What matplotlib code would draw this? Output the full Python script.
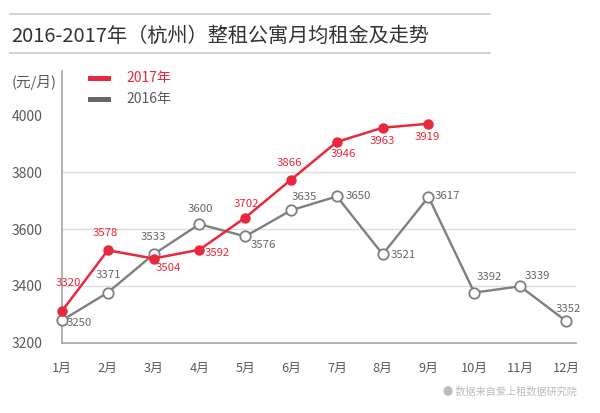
import matplotlib
matplotlib.use("Agg")
import matplotlib.pyplot as plt
from matplotlib.lines import Line2D
from matplotlib.patches import Rectangle

plt.rcParams['font.family'] = ['Noto Sans CJK SC', 'DejaVu Sans']
plt.rcParams['font.weight'] = 'light'

# ---- data ----
months = ['1月', '2月', '3月', '4月', '5月', '6月', '7月', '8月', '9月', '10月', '11月', '12月']
y2017 = [3311, 3525, 3496, 3527, 3640, 3774, 3907, 3957, 3971]
y2016 = [3278, 3376, 3511, 3617, 3574, 3666, 3715, 3511, 3713, 3376, 3398, 3276]
lab2017 = ['3320', '3578', '3504', '3592', '3702', '3866', '3946', '3963', '3919']
lab2016 = ['3250', '3371', '3533', '3600', '3576', '3635', '3650', '3521', '3617', '3392', '3339', '3352']
yticks = [3200, 3400, 3600, 3800, 4000]
title = '2016-2017年（杭州）整租公寓月均租金及走势'
unit = '(元/月)'
source = '● 数据来自爱上租数据研究院'
legend_labels = ['2017年', '2016年']

# label offsets (pixels, dx, dy)
off2017 = [(6, 28), (-2, 17), (15, -9), (18, -3), (1, 14), (-2, 17), (6, -12), (0, -13), (-1, -13)]
off2016 = [(17, -3), (1, 18), (0, 17), (1, 15), (18, -9), (13, 13), (21, 0), (21, -1), (19, 1),
           (15, 16), (17, 10), (2, 12)]

RED = '#E8283C'
GRAY = '#7F7F7F'
TXT = '#595959'

W, H = 600, 413
fig = plt.figure(figsize=(W / 100, H / 100), dpi=100)

def fx(px):
    return px / W

def fy(py):
    return 1 - py / H

# axes: x from 62 to 576 px, y from 71 to 342.5 px
ax = fig.add_axes([fx(62), fy(342.5), fx(576) - fx(62), fy(71) - fy(342.5)])
x1 = list(range(1, 13))
ax.set_xlim(1, 12.22)
ax.set_ylim(3200, 4157)

for s in ['top', 'right']:
    ax.spines[s].set_visible(False)
for s in ['left', 'bottom']:
    ax.spines[s].set_color('#AAAAAA')
    ax.spines[s].set_linewidth(1.3)

for yv in yticks[1:4]:
    ax.axhline(yv, color='#DDDDDD', lw=1.0, zorder=0)

ax.set_yticks(yticks)
ax.set_yticklabels([str(v) for v in yticks], fontsize=10, color=TXT)
ax.tick_params(axis='y', length=0, pad=14)
ax.set_xticks(x1)
ax.set_xticklabels(months, fontsize=9.2, color=TXT)
ax.tick_params(axis='x', length=0, pad=14)

ax.plot(x1, y2016, color=GRAY, lw=1.7, marker='o', markersize=7.5,
        markerfacecolor='white', markeredgecolor=GRAY, markeredgewidth=1.3, zorder=3, clip_on=False)
ax.plot(x1[:len(y2017)], y2017, color=RED, lw=1.8, marker='o', markersize=6.5,
        markerfacecolor=RED, markeredgecolor=RED, zorder=4, clip_on=False)

for i, (v, t) in enumerate(zip(y2016, lab2016)):
    ax.annotate(t, (x1[i], v), xytext=off2016[i], textcoords='offset pixels',
                ha='center', va='center', fontsize=8.2, color='#666666', zorder=5)
for i, (v, t) in enumerate(zip(y2017, lab2017)):
    ax.annotate(t, (x1[i], v), xytext=off2017[i], textcoords='offset pixels',
                ha='center', va='center', fontsize=8.2, color=RED, zorder=5)

# title + rules
fig.add_artist(Line2D([fx(10), fx(490)], [fy(13.5), fy(13.5)], color='#D0D0D0', lw=1.3))
fig.add_artist(Line2D([fx(10), fx(490)], [fy(52.5), fy(52.5)], color='#D0D0D0', lw=1.3))
fig.text(fx(11), fy(36), title, fontsize=14.5, color='#333333', ha='left', va='center')

# unit
fig.text(fx(12), fy(83), unit, fontsize=10.5, color=TXT, ha='left', va='center')

# legend
fig.add_artist(Rectangle((fx(88), fy(80.5)), fx(111) - fx(88), 5 / H, color=RED, lw=0))
fig.add_artist(Rectangle((fx(88), fy(101.5)), fx(111) - fx(88), 5 / H, color='#666666', lw=0))
fig.text(fx(126), fy(78), legend_labels[0], fontsize=10, color=RED, ha='left', va='center')
fig.text(fx(126), fy(99.5), legend_labels[1], fontsize=10, color=TXT, ha='left', va='center')

# source
fig.text(fx(577), fy(392), source, fontsize=7.3, color='#BBBBBB', ha='right', va='center')

fig.savefig('out.png', dpi=100)
